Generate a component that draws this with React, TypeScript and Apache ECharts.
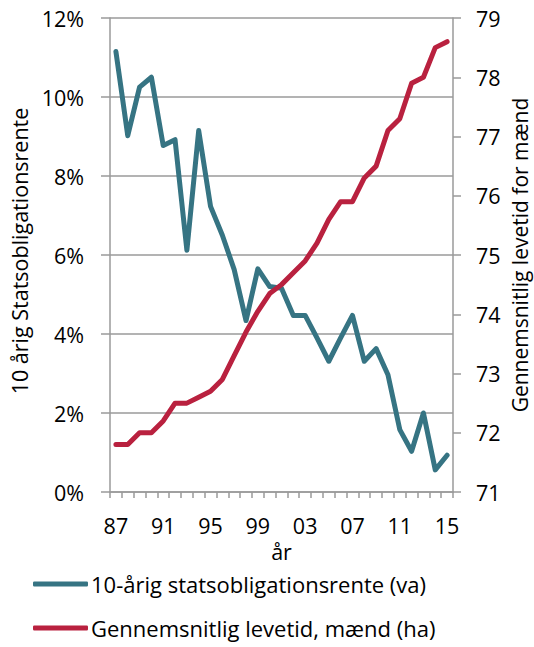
import React, { useEffect, useRef } from "react";
import * as echarts from "echarts";

const years = ["87","88","89","90","91","92","93","94","95","96","97","98","99","00","01","02","03","04","05","06","07","08","09","10","11","12","13","14","15"];
const rente = [11.15, 9.02, 10.25, 10.5, 8.77, 8.92, 6.12, 9.15, 7.23, 6.5, 5.63, 4.34, 5.65, 5.2, 5.16, 4.47, 4.47, 3.9, 3.31, 3.9, 4.47, 3.31, 3.63, 2.97, 1.58, 1.03, 2.0, 0.56, 0.93];
const levetid = [71.8, 71.8, 72.0, 72.0, 72.2, 72.5, 72.5, 72.6, 72.7, 72.9, 73.3, 73.7, 74.05, 74.35, 74.5, 74.7, 74.9, 75.2, 75.6, 75.9, 75.9, 76.3, 76.5, 77.1, 77.3, 77.9, 78.0, 78.5, 78.6];
const seriesNames = ["10-årig statsobligationsrente (va)", "Gennemsnitlig levetid, mænd (ha)"];
const leftName = "10 årig Statsobligationsrente";
const rightName = "Gennemsnitlig levetid for mænd";
const xName = "år";

const TEAL = "#367483";
const RED = "#B9213F";
const GRID = "#9a9a9a";
const FONT = "Open Sans";

export default function App() {
  const ref = useRef<HTMLDivElement>(null);
  useEffect(() => {
    const chart = echarts.init(ref.current!, null, { renderer: "svg" });
    const axisText = { color: "#000", fontSize: 21.5, fontFamily: FONT };
    chart.setOption({
      animation: false,
      textStyle: { fontFamily: FONT },
      grid: { left: 110, right: 81, top: 18, bottom: 155, outerBoundsMode: "none", containLabel: false },
      legend: {
        orient: "vertical",
        left: 33,
        top: 573,
        padding: 0,
        itemWidth: 55,
        itemHeight: 5,
        itemGap: 22,
        icon: "roundRect",
        textStyle: { ...axisText, fontSize: 22, padding: [0, 0, 0, -2] },
        data: seriesNames,
      },
      xAxis: {
        type: "category",
        data: years,
        boundaryGap: true,
        name: xName,
        nameLocation: "middle",
        nameGap: 46,
        nameTextStyle: axisText,
        axisLine: { lineStyle: { color: GRID, width: 1.5 } },
        axisTick: { show: true, interval: 0, length: 6, lineStyle: { color: GRID, width: 1.5 } },
        axisLabel: { ...axisText, interval: 3, margin: 22 },
      },
      yAxis: [
        {
          type: "value",
          min: 0,
          max: 12,
          interval: 2,
          name: leftName,
          nameLocation: "middle",
          nameGap: 78,
          nameTextStyle: { ...axisText, padding: [0, 0, 0, 8] },
          axisLine: { show: true, lineStyle: { color: GRID, width: 1.5 } },
          axisTick: { show: true, length: 9, lineStyle: { color: GRID, width: 1.5 } },
          axisLabel: { ...axisText, margin: 26, formatter: (v: number) => v + "%" },
          splitLine: { lineStyle: { color: GRID, width: 1.5 } },
        },
        {
          type: "value",
          min: 71,
          max: 79,
          interval: 1,
          position: "right",
          name: rightName,
          nameLocation: "middle",
          nameGap: 56,
          nameMoveOverlap: false,
          nameTextStyle: { ...axisText, fontSize: 21 },
          axisLine: { show: true, lineStyle: { color: GRID, width: 1.5 } },
          axisTick: { show: true, length: 8, lineStyle: { color: GRID, width: 1.5 } },
          axisLabel: { ...axisText, margin: 23 },
          splitLine: { show: false },
        },
      ],
      series: [
        {
          name: seriesNames[0],
          type: "line",
          yAxisIndex: 0,
          data: rente,
          symbol: "none",
          color: TEAL,
          lineStyle: { color: TEAL, width: 5, cap: "round", join: "round" },
        },
        {
          name: seriesNames[1],
          type: "line",
          yAxisIndex: 1,
          data: levetid,
          symbol: "none",
          color: RED,
          lineStyle: { color: RED, width: 5, cap: "round", join: "round" },
        },
      ],
    });
    return () => chart.dispose();
  }, []);
  return <div ref={ref} style={{ width: 534, height: 647, position: "absolute", left: 0, top: 0 }} />;
}
